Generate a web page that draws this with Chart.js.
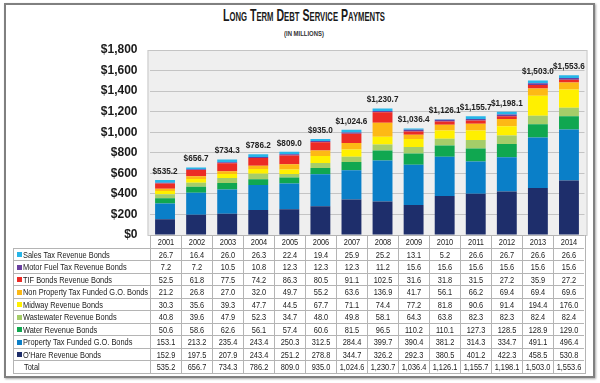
<!DOCTYPE html>
<html><head><meta charset="utf-8">
<script src="https://cdn.jsdelivr.net/npm/chart.js@4.4.0/dist/chart.umd.min.js"></script>
<style>
html,body{margin:0;padding:0;background:#fff;}
body{width:600px;height:383px;position:relative;overflow:hidden;font-family:"Liberation Sans",Arial,sans-serif;color:#222;}
#frame{position:absolute;left:4px;top:3px;width:587px;height:371px;border:2px solid #808080;box-shadow:1px 1px 2px #aaa;}
.fit{position:absolute;white-space:nowrap;transform-origin:left top;display:inline-block;}
#title{top:6px;font-weight:bold;font-size:16.5px;font-variant:small-caps;color:#1a1a1a;}
#sub{top:29px;font-size:7.5px;font-weight:bold;color:#333;}
#c{position:absolute;left:0;top:0;}
#tbl{position:absolute;left:0;top:0;}
.cell{position:absolute;box-sizing:border-box;border-left:1px solid #b4b4b4;border-top:1px solid #b4b4b4;font-size:9.5px;white-space:nowrap;overflow:visible;color:#222;}
.txt{position:absolute;top:0;transform:scaleX(0.78);}
.sq{position:absolute;width:5px;height:5px;}
</style>
</head><body>
<div id="frame"></div>
<span id="title" class="fit">Long Term Debt Service Payments</span>
<span id="sub" class="fit">(IN MILLIONS)</span>
<canvas id="c" width="600" height="255"></canvas>
<div id="tbl"></div>
<script>
const years = ['2001','2002','2003','2004','2005','2006','2007','2008','2009','2010','2011','2012','2013','2014'];
const salesTax   = [26.7,16.4,26.0,26.3,22.4,19.4,25.9,25.2,13.1,5.2,26.6,26.7,26.6,26.6];
const motorFuel  = [7.2,7.2,10.5,10.8,12.3,12.3,12.3,11.2,15.6,15.6,15.6,15.6,15.6,15.6];
const tifBonds   = [52.5,61.8,77.5,74.2,86.3,80.5,91.1,102.5,31.6,31.8,31.5,27.2,35.9,27.2];
const nonPropGO  = [21.2,26.8,27.0,32.0,49.7,55.2,63.6,136.9,41.7,56.1,66.2,69.4,69.4,69.6];
const midway     = [30.3,35.6,39.3,47.7,44.5,67.7,71.1,74.4,77.2,81.8,90.6,91.4,194.4,176.0];
const wastewater = [40.8,39.6,47.9,52.3,34.7,48.0,49.8,58.1,64.3,63.8,82.3,82.3,82.4,82.4];
const water      = [50.6,58.6,62.6,56.1,57.4,60.6,81.5,96.5,110.2,110.1,127.3,128.5,128.9,129.0];
const propTaxGO  = [153.1,213.2,235.4,243.4,250.3,312.5,284.4,399.7,390.4,381.2,314.3,334.7,491.1,496.4];
const ohare      = [152.9,197.5,207.9,243.4,251.2,278.8,344.7,326.2,292.3,380.5,401.2,422.3,458.5,530.8];
const totals     = [535.2,656.7,734.3,786.2,809.0,935.0,1024.6,1230.7,1036.4,1126.1,1155.7,1198.1,1503.0,1553.6];

// table order (top to bottom)
const seriesNames = ['Sales Tax Revenue Bonds','Motor Fuel Tax Revenue Bonds','TIF Bonds Revenue Bonds','Non Property Tax Funded G.O. Bonds','Midway Revenue Bonds','Wastewater Revenue Bonds','Water Revenue Bonds','Property Tax Funded G.O. Bonds',"O'Hare Revenue Bonds"];
const seriesData = [salesTax,motorFuel,tifBonds,nonPropGO,midway,wastewater,water,propTaxGO,ohare];
const seriesColors = ['#27b5e8','#6a40a0','#ec2b25','#fdb915','#fff000','#a5cd69','#10a750','#0a7fc8','#1e2e6b'];

const fmt = v => v.toLocaleString('en-US',{minimumFractionDigits:1,maximumFractionDigits:1});

function fitText(id, centerX, targetW){
  const el = document.getElementById(id);
  const w = el.getBoundingClientRect().width;
  el.style.transform = `scaleX(${targetW / w})`;
  el.style.left = (centerX - targetW/2) + 'px';
}
fitText('title', 304, 162);
fitText('sub', 304, 40);

const datasets = [];
for (let i = seriesNames.length-1; i >= 0; i--) {
  datasets.push({label: seriesNames[i], data: seriesData[i], backgroundColor: seriesColors[i], borderWidth: 0, barPercentage: 0.64, categoryPercentage: 1});
}

const bgPlugin = {id:'bg', beforeDraw(chart){
  const {ctx, chartArea:a} = chart;
  ctx.save();
  ctx.fillStyle = '#efefef';
  ctx.fillRect(a.left-2, a.top, a.right-a.left+5, a.bottom-a.top);
  ctx.strokeStyle = '#c8c8c8'; ctx.lineWidth = 1;
  ctx.strokeRect(a.left-1.5, a.top+0.5, a.right-a.left+4, a.bottom-a.top);
  ctx.restore();
}};
const totalPlugin = {id:'tot', afterDatasetsDraw(chart){
  const {ctx} = chart;
  const meta = chart.getDatasetMeta(chart.data.datasets.length-1);
  ctx.save();
  ctx.font = 'bold 9.5px "Liberation Sans",Arial,sans-serif';
  ctx.fillStyle = '#222'; ctx.textAlign = 'center'; ctx.textBaseline = 'bottom';
  meta.data.forEach((el,i) => {
    ctx.save();
    ctx.translate(el.x, el.y-4);
    ctx.scale(0.86,1);
    ctx.fillText('$'+fmt(totals[i]), 0, 0);
    ctx.restore();
  });
  ctx.restore();
}};

const pad = {left:0, top:50, right:15.5, bottom:20};
const chart = new Chart(document.getElementById('c'), {
  type: 'bar',
  data: {labels: years, datasets},
  options: {
    responsive: false, maintainAspectRatio: false, animation: false, devicePixelRatio: 1,
    layout: {padding: pad},
    plugins: {legend:{display:false}, tooltip:{enabled:false}},
    scales: {
      x: {stacked:true, display:false},
      y: {stacked:true, min:0, max:1800,
          afterFit(s){ s.width = 149.5; },
          border:{display:false},
          grid:{color:'#c4c4c4', drawTicks:true, tickLength:12, tickColor:'rgba(0,0,0,0)', lineWidth:1},
          ticks:{stepSize:200, padding:0, color:'#1a1a1a',
                 font:{family:'"Liberation Sans",Arial,sans-serif', weight:'bold', size:12},
                 callback: v => '$'+v.toLocaleString('en-US')}}
    }
  },
  plugins:[bgPlugin,totalPlugin]
});

// correct the plot area to the target box
const target = {top:50, bottom:235, right:584.5};
for (let k = 0; k < 4; k++) {
  const a = chart.chartArea;
  const dT = target.top - a.top, dB = a.bottom - target.bottom, dR = a.right - target.right;
  if (Math.abs(dT) < 0.2 && Math.abs(dB) < 0.2 && Math.abs(dR) < 0.2) break;
  pad.top += dT; pad.bottom += dB; pad.right += dR;
  chart.options.layout.padding = {...pad};
  chart.update('none');
}

(function buildTable(){
  const xs = chart.scales.x;
  const left = xs.left, right = xs.right;
  const colW = (right-left)/years.length;
  const top = chart.chartArea.bottom;
  const rowH = 12.5;
  const labLeft = 13;
  const tbl = document.getElementById('tbl');
  function cell(x,y,w,h,text,isLabel,noBorder){
    const d = document.createElement('div');
    d.className = 'cell';
    d.style.left = x+'px'; d.style.top = y+'px'; d.style.width = w+'px'; d.style.height = h+'px';
    if (noBorder) { d.style.borderLeft='none'; d.style.borderTop='none'; }
    if (text) {
      const t = document.createElement('span');
      t.className = 'txt'; t.textContent = text;
      t.style.lineHeight = (h-1)+'px';
      d.appendChild(t);
      if (isLabel) { t.style.left = isLabel+'px'; t.style.transformOrigin = 'left center'; }
      else { t.style.left = '50%'; t.style.transform = 'translateX(-50%) scaleX(0.78)'; }
    }
    tbl.appendChild(d); return d;
  }
  cell(labLeft, top, left-labLeft, rowH, '', 0, true);
  years.forEach((y,i)=>cell(left+i*colW, top, colW, rowH, y));
  const rows = seriesNames.map((n,i)=>({name:n, data:seriesData[i], color:seriesColors[i]}));
  rows.push({name:'Total', data:totals, color:null});
  rows.forEach((r,ri)=>{
    const y = top + (ri+1)*rowH;
    const lc = cell(labLeft, y, left-labLeft, rowH, r.name, r.color ? 9 : 10);
    if (r.color) { const s = document.createElement('div'); s.className='sq'; s.style.background=r.color; s.style.left='3px'; s.style.top='3.5px'; lc.appendChild(s); }
    r.data.forEach((v,ci)=>cell(left+ci*colW, y, colW, rowH, fmt(v)));
  });
  const bottom = top + (rows.length+1)*rowH;
  const rb = document.createElement('div');
  rb.style.cssText = `position:absolute;left:${right}px;top:${top}px;width:1px;height:${bottom-top+1}px;background:#b4b4b4;`;
  tbl.appendChild(rb);
  const bb = document.createElement('div');
  bb.style.cssText = `position:absolute;left:${labLeft}px;top:${bottom}px;width:${right-labLeft}px;height:1px;background:#b4b4b4;`;
  tbl.appendChild(bb);
})();
</script>
</body></html>
